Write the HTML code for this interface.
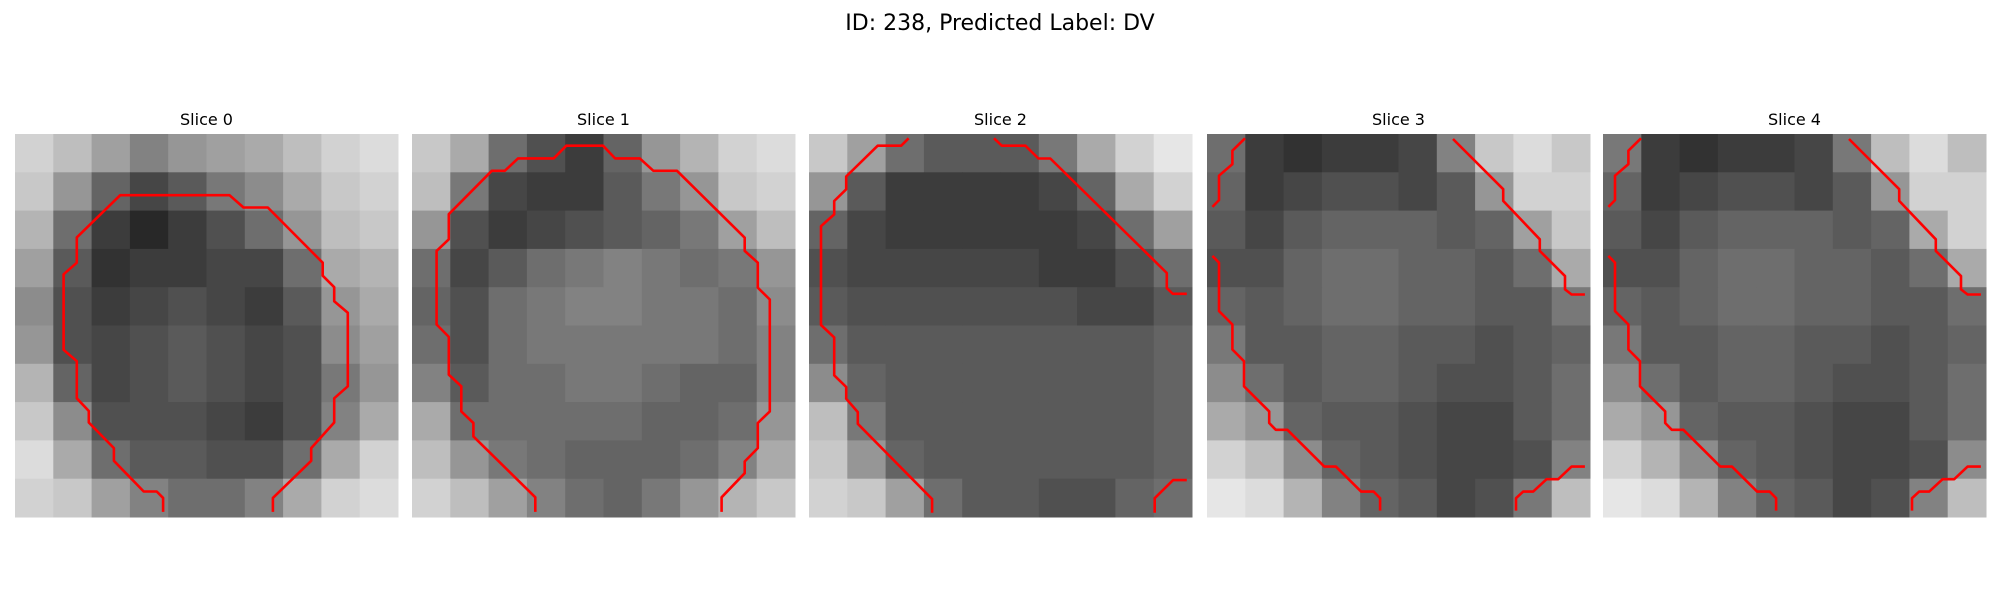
<!DOCTYPE html>
<html><head><meta charset="utf-8"><style>
html,body{margin:0;padding:0;background:#fff;}
svg{display:block;}
text{font-family:"DejaVu Sans","Liberation Sans",sans-serif;fill:#000;}
</style></head>
<body>
<svg id="fig" width="2000" height="600" viewBox="0 0 2000 600" xmlns="http://www.w3.org/2000/svg">
<rect width="2000" height="600" fill="#fff"/>
<text x="1000" y="30" text-anchor="middle" font-size="22">ID: 238, Predicted Label: DV</text>
<g id="panels"></g>
</svg>
<script>
const sliceTitles = ["Slice 0","Slice 1","Slice 2","Slice 3","Slice 4"];
// coarse 10x10 brightness grids (0 black - 255 white)
const grid0 = [
[210,190,160,130,150,160,170,190,210,220],
[200,150,100,70,90,120,140,170,200,210],
[180,110,60,40,60,80,110,150,190,200],
[160,90,50,60,60,70,70,110,170,180],
[140,80,60,70,80,70,60,90,150,170],
[150,80,70,80,90,80,70,80,140,160],
[180,100,70,80,90,80,70,80,120,150],
[200,140,80,80,80,70,60,80,130,170],
[220,170,110,90,90,80,80,110,170,210],
[210,200,160,130,110,110,130,170,210,220]];
const grid1 = [
[200,170,110,80,60,100,150,180,210,220],
[190,120,70,60,60,90,120,150,200,210],
[150,80,60,70,80,90,100,120,160,190],
[110,70,90,110,120,130,120,110,120,150],
[100,80,110,120,130,130,120,120,110,140],
[110,80,110,120,120,120,120,120,110,130],
[130,90,110,110,120,120,110,100,100,130],
[170,110,110,110,110,110,100,100,110,150],
[190,150,120,110,100,100,100,110,130,170],
[210,190,160,130,110,100,120,150,180,200]];
const grid2 = [
[200,160,110,90,90,90,120,170,210,230],
[150,90,60,60,60,60,70,100,170,210],
[100,70,60,60,60,60,60,70,110,160],
[80,70,70,70,70,70,60,60,80,110],
[90,80,80,80,80,80,80,70,70,90],
[110,90,90,90,90,90,90,90,90,100],
[140,100,90,90,90,90,90,90,90,100],
[190,120,90,90,90,90,90,90,90,100],
[200,150,100,90,90,90,90,90,90,100],
[210,200,160,110,90,90,80,80,100,110]];
const grid3 = [
[110,60,50,60,60,70,130,200,220,200],
[100,60,70,80,80,70,90,150,210,210],
[90,70,90,100,100,100,90,100,160,200],
[80,80,100,110,110,100,100,90,110,170],
[100,90,100,110,110,100,100,90,90,120],
[120,90,90,100,100,90,90,80,90,100],
[140,110,90,100,100,90,80,80,90,110],
[170,150,100,90,90,80,70,70,90,110],
[210,190,140,100,90,80,70,70,80,130],
[230,220,180,130,100,90,70,80,120,190]];
const grid4 = [
[120,60,50,60,60,70,120,190,220,190],
[100,60,70,80,80,70,90,150,210,210],
[90,70,90,100,100,100,90,100,170,210],
[80,80,100,110,110,100,100,90,110,170],
[100,90,100,110,110,100,100,90,90,110],
[120,90,90,100,100,90,90,80,90,100],
[140,110,90,100,100,90,80,80,90,110],
[170,150,100,90,90,80,70,70,90,110],
[210,180,140,100,90,80,70,70,80,140],
[230,220,180,130,100,90,70,80,130,190]];
// contours in cell units (30x30 image)
const c0 = [[[11.6,29.6],[11.6,28.5],[11.1,28.0],[10.08,28.0],[7.75,25.6],[7.75,24.6],[5.78,22.6],[5.78,21.7],[4.84,20.7],[4.84,17.8],[3.81,16.9],[3.81,10.99],[4.84,10.08],[4.84,8.1],[8.24,4.79],[16.8,4.79],[17.9,5.76],[19.8,5.76],[24.1,10.08],[24.1,11.1],[25.0,12.0],[25.0,13.1],[26.07,14.0],[26.07,19.76],[25.0,20.7],[25.0,22.6],[23.2,24.6],[23.2,25.6],[20.2,28.5],[20.2,29.6]]];
const c1 = [[[9.66,29.6],[9.66,28.46],[4.81,23.69],[4.81,22.64],[3.86,21.73],[3.86,19.76],[2.88,18.85],[2.88,15.89],[1.93,14.92],[1.93,9.16],[2.88,8.25],[2.88,6.28],[6.25,2.88],[7.27,2.88],[8.3,1.91],[11.1,1.91],[12.09,0.92],[14.96,0.92],[15.91,1.91],[17.84,1.91],[18.91,2.88],[20.76,2.88],[26.06,8.12],[26.06,9.16],[27.09,10.08],[27.09,12.04],[28.03,12.96],[28.03,21.73],[27.09,22.64],[27.09,24.6],[26.06,25.65],[26.06,26.57],[24.25,28.46],[24.25,29.6]]];
const c2 = [
[[7.8,0.34],[7.22,0.92],[5.38,0.92],[2.91,3.33],[2.91,4.33],[1.97,5.25],[1.97,6.3],[0.94,7.22],[0.94,14.96],[1.97,15.93],[1.97,18.9],[2.91,19.82],[2.91,20.73],[3.82,21.78],[3.82,22.7],[9.64,28.6],[9.64,29.66]],
[[14.49,0.34],[15.1,0.92],[16.95,0.92],[17.97,1.92],[18.9,1.92],[28.03,10.89],[28.03,12.07],[28.5,12.52],[29.59,12.52]],
[[27.08,29.66],[27.08,28.53],[28.52,27.11],[29.59,27.11]]];
const c34 = [
[[2.98,0.34],[1.99,1.31],[1.99,2.36],[0.94,3.27],[0.94,5.18],[0.42,5.71]],
[[0.42,9.55],[0.94,10.08],[0.94,13.87],[1.99,14.92],[1.99,16.88],[2.9,17.8],[2.9,19.76],[4.87,21.73],[4.87,22.64],[5.39,23.17],[6.3,23.17],[9.19,26.05],[10.1,26.05],[12.07,28.01],[13.06,28.01],[13.56,28.53],[13.56,29.5]],
[[19.27,0.39],[23.2,4.32],[23.2,5.24],[26.07,8.25],[26.07,9.16],[28.04,11.13],[28.04,12.17],[28.56,12.57],[29.6,12.57]],
[[24.2,29.5],[24.2,28.53],[24.77,28.01],[25.55,28.01],[26.6,27.04],[27.51,27.04],[28.56,26.05],[29.6,26.05]]];
const grids = [grid0,grid1,grid2,grid3,grid4];
const contours = [c0,c1,c2,c34,c34];

const NS = "http://www.w3.org/2000/svg";
const panelsG = document.getElementById('panels');
const lefts = [15,412,809,1207,1603];
const top0 = 134, size = 383, N = 30;
const cs = size / N;
function xs(left, v){ return left + v*cs; }
function ys(v){ return top0 + v*cs; }

grids.forEach((g, p) => {
  const left = lefts[p];
  const pg = document.createElementNS(NS,'g');
  
  
  panelsG.appendChild(pg);
  const t = document.createElementNS(NS,'text');
  
  
  t.setAttribute('x', left + size/2);
  t.setAttribute('y', 125);
  t.setAttribute('text-anchor','middle');
  t.setAttribute('font-size','16');
  t.textContent = sliceTitles[p];
  pg.appendChild(t);
  const rows = g.length, cols = g[0].length;
  const bw = N/cols, bh = N/rows;
  for (let r=0;r<rows;r++) for (let c=0;c<cols;c++){
    const v = Math.round(g[r][c]);
    const rc = document.createElementNS(NS,'rect');
    
    
    rc.setAttribute('x', xs(left, c*bw));
    rc.setAttribute('y', ys(r*bh));
    rc.setAttribute('width', bw*cs+0.5);
    rc.setAttribute('height', bh*cs+0.5);
    rc.setAttribute('fill', `rgb(${v},${v},${v})`);
    pg.appendChild(rc);
  }
  contours[p].forEach(line => {
    const pl = document.createElementNS(NS,'polyline');
    
    
    pl.setAttribute('points', line.map(q => xs(left,q[0]).toFixed(1)+','+ys(q[1]).toFixed(1)).join(' '));
    pl.setAttribute('fill','none');
    pl.setAttribute('stroke','#ff0000');
    pl.setAttribute('stroke-width','2.6');
    pl.setAttribute('stroke-linejoin','round');
    pg.appendChild(pl);
  });
});
</script>
</body></html>
